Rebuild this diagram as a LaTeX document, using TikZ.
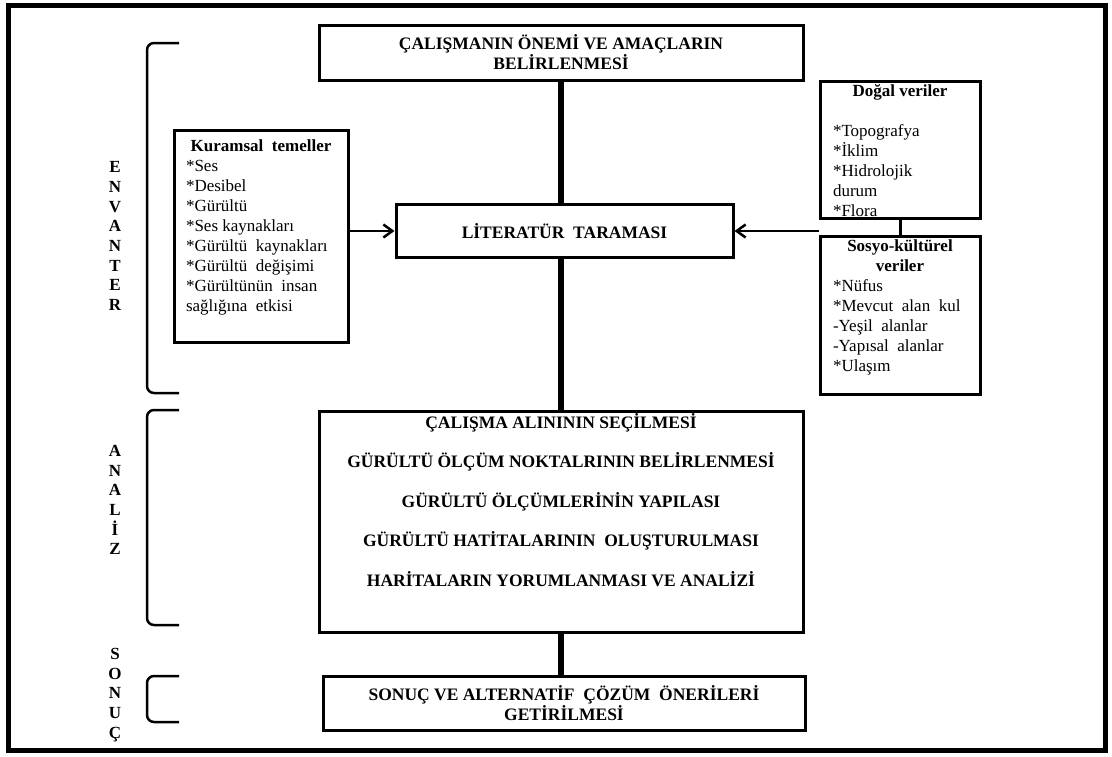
\documentclass[tikz,border=0pt]{standalone}
\usepackage{fontspec}
\setmainfont{Liberation Serif}
\usetikzlibrary{arrows.meta}
\begin{document}
\begin{tikzpicture}[x=1pt,y=-1pt,
  box/.style={draw, line width=3pt, inner sep=0pt, fill=white},
  conn/.style={line width=5.5pt},
  arr/.style={line width=2.5pt, -{Straight Barb[length=9pt,width=13pt]}},
  brk/.style={line width=2.5pt, rounded corners=7pt},
  captxt/.style={font=\fontsize{17.5}{20}\selectfont\bfseries, align=center},
  side/.style={font=\fontsize{17}{19.7}\selectfont\bfseries, align=center, inner sep=0pt}]
\useasboundingbox (0,0) rectangle (1112,756);
\fill[white] (0,0) rectangle (1112,756);
\draw[line width=5pt] (8,5) rectangle (1105,750);

% main column
\node[box, captxt, minimum width=484pt, minimum height=55pt] (top) at (561,52.5)
  {ÇALIŞMANIN ÖNEMİ VE AMAÇLARIN\\BELİRLENMESİ};
\node[box, captxt, minimum width=337pt, minimum height=53pt] (lit) at (564.5,231)
  {LİTERATÜR~ TARAMASI};
\node[box] (ana) at (561,521.5) {\parbox[c][221pt][t]{484pt}{\centering\bfseries\fontsize{17.5}{39.5}\selectfont
  \rule{0pt}{17pt}ÇALIŞMA ALINININ SEÇİLMESİ\\
  GÜRÜLTÜ ÖLÇÜM NOKTALRININ BELİRLENMESİ\\
  GÜRÜLTÜ ÖLÇÜMLERİNİN YAPILASI\\
  GÜRÜLTÜ HATİTALARININ~ OLUŞTURULMASI\\
  HARİTALARIN YORUMLANMASI VE ANALİZİ\par}};
\node[box, captxt, minimum width=482pt, minimum height=54pt] (son) at (564,703)
  {SONUÇ VE ALTERNATİF~ ÇÖZÜM~ ÖNERİLERİ\\GETİRİLMESİ};

% side boxes
\node[box] (kur) at (261,236) {\parbox[c][212pt][t]{174pt}{\fontsize{17}{20}\selectfont\parindent=0pt
  {\centering\bfseries\rule{0pt}{21pt}Kuramsal~ temeller\par}
  \leftskip=12pt\rightskip=0pt plus 1fil
  *Ses\par
  *Desibel\par
  *Gürültü\par
  *Ses kaynakları\par
  *Gürültü~ kaynakları\par
  *Gürültü~ değişimi\par
  *Gürültünün~ insan\par
  sağlığına~ etkisi\par}};
\node[box] (dog) at (900,149.5) {\parbox[c][137pt][t]{160pt}{\fontsize{17}{20}\selectfont\parindent=0pt
  {\centering\bfseries\rule{0pt}{15pt}Doğal veriler\par}
  \leftskip=13pt\rightskip=0pt plus 1fil
  \mbox{}\par
  *Topografya\par
  *İklim\par
  *Hidrolojik\par
  durum\par
  *Flora\par}};
\node[box] (sos) at (900,315) {\parbox[c][158pt][t]{160pt}{\fontsize{17}{20}\selectfont\parindent=0pt
  {\centering\bfseries\rule{0pt}{15pt}Sosyo-kültürel\\veriler\par}
  \leftskip=13pt\rightskip=0pt plus 1fil
  *Nüfus\par
  *Mevcut~ alan~ kul\par
  -Yeşil~ alanlar\par
  -Yapısal~ alanlar\par
  *Ulaşım\par}};

% side labels
\node[side] (env) at (115,236) {E\\N\\V\\A\\N\\T\\E\\R};
\node[side] (anl) at (115,500) {A\\N\\A\\L\\İ\\Z};
\node[side] (snc) at (115,695) {S\\O\\N\\U\\Ç};

% brackets
\draw[brk] (179,43) -- (147,43) -- (147,393) -- (179,393);
\draw[brk] (179,410) -- (147,410) -- (147,625) -- (179,625);
\draw[brk] (179,676) -- (147,676) -- (147,722) -- (179,722);

% connectors
\draw[conn] (top.south) -- (top.south |- lit.north);
\draw[conn] (top.south |- lit.south) -- (top.south |- ana.north);
\draw[conn] (ana.south) -- (ana.south |- son.north);
\draw[line width=3pt] (dog.south) -- (sos.north);
\draw[arr] (kur.east |- lit.west) -- (lit.west);
\draw[arr] (dog.south west |- lit.east) -- (lit.east);
\end{tikzpicture}
\end{document}
